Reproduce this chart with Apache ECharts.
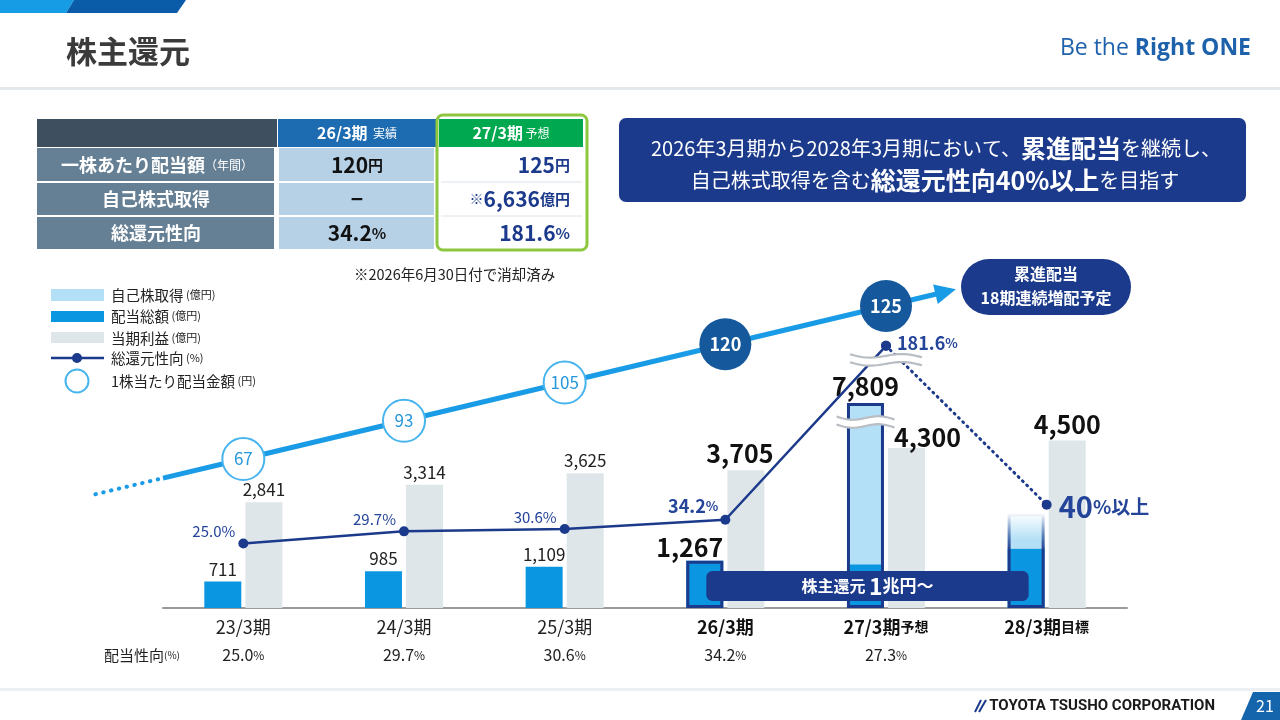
<!DOCTYPE html>
<html lang="ja">
<head>
<meta charset="UTF-8">
<title>株主還元</title>
<script src="https://cdn.jsdelivr.net/npm/echarts@6/dist/echarts.min.js"></script>
<style>
  html, body { margin: 0; padding: 0; background: #fff; }
  #chart { width: 1280px; height: 720px; }
</style>
</head>
<body>
<div id="chart"></div>
<script>
const FONT = '"Noto Sans CJK JP", "Noto Sans", sans-serif';

// ---- data ----
const periods = ['23/3期', '24/3期', '25/3期', '26/3期', '27/3期', '28/3期'];
const periodSuffix = ['', '', '', '', '予想', '目標'];
const dividendTotal = [711, 985, 1109, 1267, 1173, 1600];     // 配当総額 (億円)
const buyback = [null, null, null, null, 6636, 950];           // 自己株取得 (億円)
const netIncome = [2841, 3314, 3625, 3705, 4300, 4500];        // 当期利益 (億円)
const totalPayout = [25.0, 29.7, 30.6, 34.2, 181.6, 40];       // 総還元性向 (%)
const payoutRatio = ['25.0', '29.7', '30.6', '34.2', '27.3', '']; // 配当性向 (%)
const dps = [67, 93, 105, 120, 125];                           // 1株当たり配当金額 (円)
const hi = 3; // 26/3期 onwards are highlighted

// ---- colours ----
const NAVY = '#1c3a8b';
const BLUE = '#0a96e0';
const LIGHT = '#b3e0f6';
const GRAY = '#dfe6ea';
const LINE = '#1a9be5';
const RING = '#48b4ee';
const DARK = '#15599c';
const PCT = '#24449a';

const fmt = v => Number(v).toLocaleString('en-US');
const returnTotal = dividendTotal.map((d, i) => i >= hi ? d + (buyback[i] || 0) : null);

function rs(size, weight, color) {
  return { fontSize: size, fontWeight: weight || 'normal', color: color || '#222', fontFamily: FONT };
}
function gs(size, weight, fill) {
  return { fontSize: size, fontWeight: weight || 'normal', fill: fill || '#222', fontFamily: FONT };
}
function gtext(x, y, text, rich, align, extra) {
  return Object.assign({
    type: 'text', z: 40,
    style: { x: x, y: y, text: text, rich: rich, align: align || 'left', verticalAlign: 'middle', fontFamily: FONT }
  }, extra || {});
}
function grect(x, y, w, h, fill, r, extra) {
  return Object.assign({ type: 'rect', z: 5, shape: { x: x, y: y, width: w, height: h, r: r || 0 }, style: { fill: fill } }, extra || {});
}

const chart = echarts.init(document.getElementById('chart'));

const niOffset = { 3: [-6, 0], 4: [21, 6], 5: [0, 0] };

const fadeFill = new echarts.graphic.LinearGradient(0, 0, 0, 1, [
  { offset: 0, color: 'rgba(179,224,246,0)' },
  { offset: 0.75, color: LIGHT },
  { offset: 1, color: LIGHT }
]);
const fadeBorder = new echarts.graphic.LinearGradient(0, 0, 0, 1, [
  { offset: 0, color: 'rgba(28,58,139,0)' },
  { offset: 0.4, color: NAVY },
  { offset: 1, color: NAVY }
]);

function pctLabel(i) {
  const v = totalPayout[i];
  if (i < 3) {
    return { show: true, position: 'left', distance: 3, offset: [0, -12], formatter: v.toFixed(1) + '%', ...rs(15, 'normal', PCT) };
  }
  if (i === 3) {
    return { show: true, position: 'left', distance: 2, offset: [0, -14], formatter: '{v|' + v.toFixed(1) + '}{u|%}',
      rich: { v: rs(18, 'bold', PCT), u: rs(13, 'bold', PCT) } };
  }
  if (i === 4) {
    return { show: true, position: 'right', distance: 6, offset: [0, -3], formatter: '{v|' + v.toFixed(1) + '}{u|%}',
      rich: { v: rs(18, 'bold', PCT), u: rs(13, 'bold', PCT) } };
  }
  return { show: true, position: 'right', distance: 7, offset: [0, 2], formatter: '{v|' + v + '}{u|%以上}',
    rich: { v: rs(29, 'bold', PCT), u: rs(19, 'bold', PCT) } };
}

const option = {
  animation: false,
  textStyle: { fontFamily: FONT },
  grid: [
    { left: 163, right: 153, top: 288, bottom: 112 },
    { left: 163, right: 153, top: 306, bottom: 261 }
  ],
  xAxis: [
    {
      type: 'category', gridIndex: 0, data: periods,
      axisLine: { lineStyle: { color: '#9a9a9a', width: 2 } },
      axisTick: { show: false },
      axisLabel: {
        margin: 5,
        formatter: (val, i) => {
          const head = i < hi ? '{n|' + val + '}' : '{b|' + val + '}' + (periodSuffix[i] ? '{s|' + periodSuffix[i] + '}' : '');
          const tail = payoutRatio[i] ? '\n{p|' + payoutRatio[i] + '}{u|%}' : '';
          return head + tail;
        },
        rich: {
          n: Object.assign(rs(18), { lineHeight: 28 }),
          b: Object.assign(rs(18, 'bold', '#111'), { lineHeight: 28 }),
          s: Object.assign(rs(14, 'bold', '#111'), { lineHeight: 28 }),
          p: Object.assign(rs(16), { lineHeight: 28 }),
          u: Object.assign(rs(12), { lineHeight: 28 })
        }
      }
    },
    { type: 'category', gridIndex: 0, data: periods, show: false },
    { type: 'category', gridIndex: 1, data: periods, show: false }
  ],
  yAxis: [
    {
      type: 'value', gridIndex: 0, min: 0, max: 10902, show: false,
      breaks: [{ start: 5000, end: 7300, gap: 0 }],
      breakArea: { show: false }
    },
    {
      type: 'value', gridIndex: 0, min: 0, max: 204, show: false,
      breaks: [{ start: 50, end: 130, gap: 0 }],
      breakArea: { show: false }
    },
    {
      type: 'category', gridIndex: 1, data: dps.map(String), boundaryGap: false, show: false
    }
  ],
  series: [
    {
      name: '配当総額', type: 'bar', xAxisIndex: 0, yAxisIndex: 0, stack: 'ret',
      barWidth: 37, barGap: '11%',
      itemStyle: { color: BLUE },
      label: { show: true, position: 'top', distance: 4, formatter: p => fmt(p.value), ...rs(17) },
      data: dividendTotal.map((v, i) => ({ value: v, label: { show: i < hi } }))
    },
    {
      name: '自己株取得', type: 'bar', xAxisIndex: 0, yAxisIndex: 0, stack: 'ret',
      barWidth: 37, barGap: '11%',
      itemStyle: { color: LIGHT },
      data: buyback.map((v, i) => i === 5 ? { value: v, itemStyle: { color: fadeFill } } : v)
    },
    {
      name: '当期利益', type: 'bar', xAxisIndex: 0, yAxisIndex: 0,
      barWidth: 37, barGap: '11%',
      itemStyle: { color: GRAY },
      label: { show: true, position: 'top', distance: 4, formatter: p => fmt(p.value), ...rs(17) },
      data: netIncome.map((v, i) => i < hi ? v : {
        value: v, label: { fontSize: 25, fontWeight: 'bold', color: '#111', offset: niOffset[i] }
      })
    },
    {
      name: 'outline', type: 'bar', xAxisIndex: 1, yAxisIndex: 0, z: 4,
      barWidth: 37, barGap: '11%',
      itemStyle: { color: 'rgba(0,0,0,0)', borderColor: NAVY, borderWidth: 3 },
      label: { show: true, position: 'top', distance: 4, formatter: p => fmt(p.value), ...rs(25, 'bold', '#111') },
      data: returnTotal.map((v, i) => {
        if (v === null) return null;
        if (i === 3) return { value: v, label: { offset: [-15, 3] } };
        if (i === 5) return { value: v, itemStyle: { borderColor: fadeBorder }, label: { show: false } };
        return v;
      })
    },
    {
      name: 'slot', type: 'bar', xAxisIndex: 1, yAxisIndex: 0,
      barWidth: 37, barGap: '11%', silent: true,
      data: periods.map(() => null)
    },
    {
      name: '総還元性向', type: 'line', xAxisIndex: 0, yAxisIndex: 1, z: 6, clip: false,
      symbol: 'circle', symbolSize: 10,
      itemStyle: { color: NAVY },
      lineStyle: { color: NAVY, width: 2.5 },
      data: totalPayout.map((v, i) => i <= 4 ? { value: v, label: pctLabel(i) } : null)
    },
    {
      name: '総還元性向(目標)', type: 'line', xAxisIndex: 0, yAxisIndex: 1, z: 6, clip: false,
      symbol: 'circle', symbolSize: 10,
      itemStyle: { color: NAVY },
      lineStyle: { color: NAVY, width: 3, type: [1, 5], cap: 'round' },
      data: totalPayout.map((v, i) => i >= 4 ? { value: v, label: i === 5 ? pctLabel(i) : { show: false } } : null)
    },
    {
      name: '1株当たり配当金額', type: 'line', xAxisIndex: 2, yAxisIndex: 2, z: 8, clip: false,
      symbol: 'circle',
      lineStyle: { color: LINE, width: 5 },
      data: dps.map((v, i) => ({
        value: [i, String(v)],
        symbolSize: i >= hi ? 52 : 42,
        itemStyle: i >= hi ? { color: DARK, borderWidth: 0 } : { color: '#fff', borderColor: RING, borderWidth: 2 },
        label: {
          show: true, position: 'inside', formatter: String(v),
          ...(i >= hi ? rs(18, 'bold', '#fff') : rs(17, 'normal', '#2597dd'))
        }
      }))
    }
  ]
};

chart.setOption(option);

// ---- static slide furniture ----
const deco = [];
// top band
deco.push({ type: 'polygon', z: 5, shape: { points: [[0, 0], [74, 0], [66, 13], [0, 13]] }, style: { fill: '#169ce4' } });
deco.push({ type: 'polygon', z: 5, shape: { points: [[74, 0], [186, 0], [177, 13], [66, 13]] }, style: { fill: '#0a5ca8' } });
deco.push(gtext(66, 51, '{t|株主還元}', { t: gs(31, 'bold', '#3b3b3b') }));
deco.push(gtext(1251, 48, '{a|Be the }{b|Right ONE}', {
  a: Object.assign(gs(23, 'normal', '#1f62ac'), { fontFamily: '"Open Sans", sans-serif' }),
  b: Object.assign(gs(23, 'bold', '#1f62ac'), { fontFamily: '"Open Sans", sans-serif' })
}, 'right'));
deco.push(grect(0, 87, 1280, 3, '#e3e8ed'));

// table
deco.push(grect(37, 119, 240, 28, '#3e4f5f'));
deco.push(grect(278, 119, 158, 28, '#1d6cb1'));
deco.push(grect(439, 119, 144, 28, '#00a84f'));
const rowY = [148, 183, 217];
const rowH = [33, 32, 32];
rowY.forEach((y, k) => {
  deco.push(grect(37, y, 237, rowH[k], '#657f94'));
  deco.push(grect(279, y, 155, rowH[k], '#b6d1e6'));
});
deco.push({ type: 'line', z: 6, shape: { x1: 441, y1: 182, x2: 582, y2: 182 }, style: { stroke: '#dde3ea', lineWidth: 1 } });
deco.push({ type: 'line', z: 6, shape: { x1: 441, y1: 216, x2: 582, y2: 216 }, style: { stroke: '#dde3ea', lineWidth: 1 } });
deco.push({ type: 'rect', z: 7, shape: { x: 437, y: 115, width: 150, height: 135, r: 6 }, style: { fill: 'none', stroke: '#8dc63f', lineWidth: 3 } });

deco.push(gtext(357, 133, '{b|26/3期}{s|  実績}', { b: gs(16, 'bold', '#fff'), s: gs(12, 'normal', '#fff') }, 'center'));
deco.push(gtext(511, 133, '{b|27/3期}{s| 予想}', { b: gs(16, 'bold', '#fff'), s: gs(12, 'normal', '#fff') }, 'center'));
deco.push(gtext(157, 165, '{b|一株あたり配当額}{s|（年間）}', { b: gs(18, 'bold', '#fff'), s: gs(12, 'normal', '#fff') }, 'center'));
deco.push(gtext(156, 199, '{b|自己株式取得}', { b: gs(18, 'bold', '#fff') }, 'center'));
deco.push(gtext(156, 233, '{b|総還元性向}', { b: gs(18, 'bold', '#fff') }, 'center'));
deco.push(gtext(357, 165, '{v|120}{u|円}', { v: gs(21, 'bold', '#111'), u: gs(15, 'bold', '#111') }, 'center'));
deco.push(gtext(357, 199, '{v|−}', { v: gs(21, 'bold', '#111') }, 'center'));
deco.push(gtext(357, 233, '{v|34.2}{u|%}', { v: gs(21, 'bold', '#111'), u: gs(15, 'bold', '#111') }, 'center'));
deco.push(gtext(570, 165, '{v|125}{u|円}', { v: gs(21, 'bold', NAVY), u: gs(15, 'bold', NAVY) }, 'right'));
deco.push(gtext(570, 199, '{s|※}{v|6,636}{u|億円}', { s: gs(14, 'bold', NAVY), v: gs(21, 'bold', NAVY), u: gs(15, 'bold', NAVY) }, 'right'));
deco.push(gtext(570, 233, '{v|181.6}{u|%}', { v: gs(21, 'bold', NAVY), u: gs(15, 'bold', NAVY) }, 'right'));
deco.push(gtext(354, 274, '{n|※2026年6月30日付で消却済み}', { n: gs(14.5) }));

// message box
deco.push(grect(619, 118, 627, 84, '#1b3a8b', 7));
deco.push(gtext(936, 148, '{n|2026年3月期から2028年3月期において、}{b|累進配当}{n|を継続し、}',
  { n: gs(20, 'normal', '#fff'), b: gs(25, 'bold', '#fff') }, 'center'));
deco.push(gtext(935, 180, '{n|自己株式取得を含む}{b|総還元性向40%以上}{n|を目指す}',
  { n: gs(20, 'normal', '#fff'), b: gs(25, 'bold', '#fff') }, 'center'));

// pill
deco.push(grect(961, 259, 170, 56, '#1b3a8b', 28));
deco.push(gtext(1046, 274, '{b|累進配当}', { b: gs(16, 'bold', '#fff') }, 'center'));
deco.push(gtext(1046, 298, '{b|18期連続増配予定}', { b: gs(16, 'bold', '#fff') }, 'center'));

// legend
deco.push(grect(51, 289, 53, 12, LIGHT));
deco.push(grect(51, 311, 53, 11, BLUE));
deco.push(grect(51, 332, 53, 11, GRAY));
deco.push({ type: 'line', z: 6, shape: { x1: 51, y1: 358, x2: 104, y2: 358 }, style: { stroke: NAVY, lineWidth: 2.5 } });
deco.push({ type: 'circle', z: 7, shape: { cx: 77, cy: 358, r: 5 }, style: { fill: NAVY } });
deco.push({ type: 'circle', z: 7, shape: { cx: 77, cy: 381, r: 11.5 }, style: { fill: '#fff', stroke: RING, lineWidth: 2 } });
const legTxt = [['自己株取得', '(億円)', 295], ['配当総額', '(億円)', 316], ['当期利益', '(億円)', 338], ['総還元性向', '(%)', 358], ['1株当たり配当金額', '(円)', 381]];
legTxt.forEach(t => deco.push(gtext(111, t[2], '{n|' + t[0] + '}{s| ' + t[1] + '}', { n: gs(14.5), s: gs(11) })));

// payout row title
deco.push(gtext(104, 655, '{n|配当性向}{s|(%)}', { n: gs(15), s: gs(10) }));

// footer
deco.push(grect(0, 688, 1280, 3, '#edf0f3'));
deco.push({ type: 'line', z: 6, shape: { x1: 975, y1: 712, x2: 981, y2: 700 }, style: { stroke: NAVY, lineWidth: 2 } });
deco.push({ type: 'line', z: 6, shape: { x1: 979, y1: 712, x2: 986, y2: 700 }, style: { stroke: NAVY, lineWidth: 2 } });
deco.push(gtext(1215, 706, '{n|TOYOTA TSUSHO CORPORATION}', { n: Object.assign(gs(15, 'bold', '#1a1a1a'), { fontFamily: 'Roboto, sans-serif' }) }, 'right'));
deco.push({ type: 'polygon', z: 5, shape: { points: [[1253, 692], [1280, 692], [1280, 720], [1241, 720]] }, style: { fill: '#1565ad' } });
deco.push(gtext(1265, 706, '{n|21}', { n: gs(16, 'normal', '#fff') }, 'center'));

// ---- annotations placed from the chart's own coordinates ----
const cat = i => chart.convertToPixel({ xAxisIndex: 0 }, i);

// dividend-per-share arrow extensions
const p0 = chart.convertToPixel({ gridIndex: 1 }, [0, 0]);
const p4 = chart.convertToPixel({ gridIndex: 1 }, [dps.length - 1, dps.length - 1]);
const sx = (p4[0] - p0[0]) / (dps.length - 1);
const sy = (p4[1] - p0[1]) / (dps.length - 1);
const at = (p, k) => [p[0] + sx * k, p[1] + sy * k];
const a1 = at(p0, -0.5), a2 = at(p0, -0.53), a3 = at(p0, -0.95);
deco.push({ type: 'line', z: 3, shape: { x1: p0[0], y1: p0[1], x2: a1[0], y2: a1[1] }, style: { stroke: LINE, lineWidth: 5 } });
deco.push({ type: 'line', z: 3, shape: { x1: a2[0], y1: a2[1], x2: a3[0], y2: a3[1] }, style: { stroke: LINE, lineWidth: 4, lineDash: [0.5, 7.5], lineCap: 'round' } });
const b1 = at(p4, 0.32), tip = at(p4, 0.435);
const len = Math.hypot(sx, sy), ux = sx / len, uy = sy / len;
const base = [tip[0] - ux * 21, tip[1] - uy * 21];
deco.push({ type: 'line', z: 3, shape: { x1: p4[0], y1: p4[1], x2: b1[0], y2: b1[1] }, style: { stroke: LINE, lineWidth: 5 } });
deco.push({ type: 'polygon', z: 3, shape: { points: [tip, [base[0] - uy * 10, base[1] + ux * 10], [base[0] + uy * 10, base[1] - ux * 10]] }, style: { fill: LINE } });

// break marks
function wave(cx, cy, w, sep, amp, tilt) {
  const top = [], bot = [];
  const n = 30;
  for (let k = 0; k <= n; k++) {
    const t = k / n;
    const x = cx - w / 2 + w * t;
    const dy = amp * Math.sin(t * 2 * Math.PI) + tilt * (t - 0.5);
    top.push([x, cy - sep / 2 + dy]);
    bot.push([x, cy + sep / 2 + dy]);
  }
  return [
    { type: 'polygon', z: 30, shape: { points: top.concat(bot.slice().reverse()) }, style: { fill: '#fff' } },
    { type: 'polyline', z: 31, shape: { points: top }, style: { stroke: '#b9bec4', lineWidth: 2.2, fill: null } },
    { type: 'polyline', z: 31, shape: { points: bot }, style: { stroke: '#b9bec4', lineWidth: 2.2, fill: null } }
  ];
}
const barBreakY = chart.convertToPixel({ yAxisIndex: 0 }, 5000);
const pk = chart.convertToPixel({ xAxisIndex: 0, yAxisIndex: 1 }, [4, totalPayout[4]]);
wave(cat(4) - 20.5, barBreakY, 58, 8, 2.5, 3).forEach(e => deco.push(e));
wave(pk[0], pk[1] + 14, 72, 8, 2.5, 3).forEach(e => deco.push(e));

// 株主還元 1兆円〜 banner
const bx1 = cat(3) - 19, bx2 = cat(5) - 18;
deco.push(grect(bx1, 571, bx2 - bx1, 30, NAVY, 6, { z: 35 }));
deco.push(gtext((bx1 + bx2) / 2, 586, '{a|株主還元 }{b|1}{c|兆円〜}',
  { a: gs(16, 'bold', '#fff'), b: gs(23, 'bold', '#fff'), c: gs(17, 'bold', '#fff') }, 'center', { z: 36 }));

chart.setOption({ graphic: { elements: deco } });
</script>
</body>
</html>
